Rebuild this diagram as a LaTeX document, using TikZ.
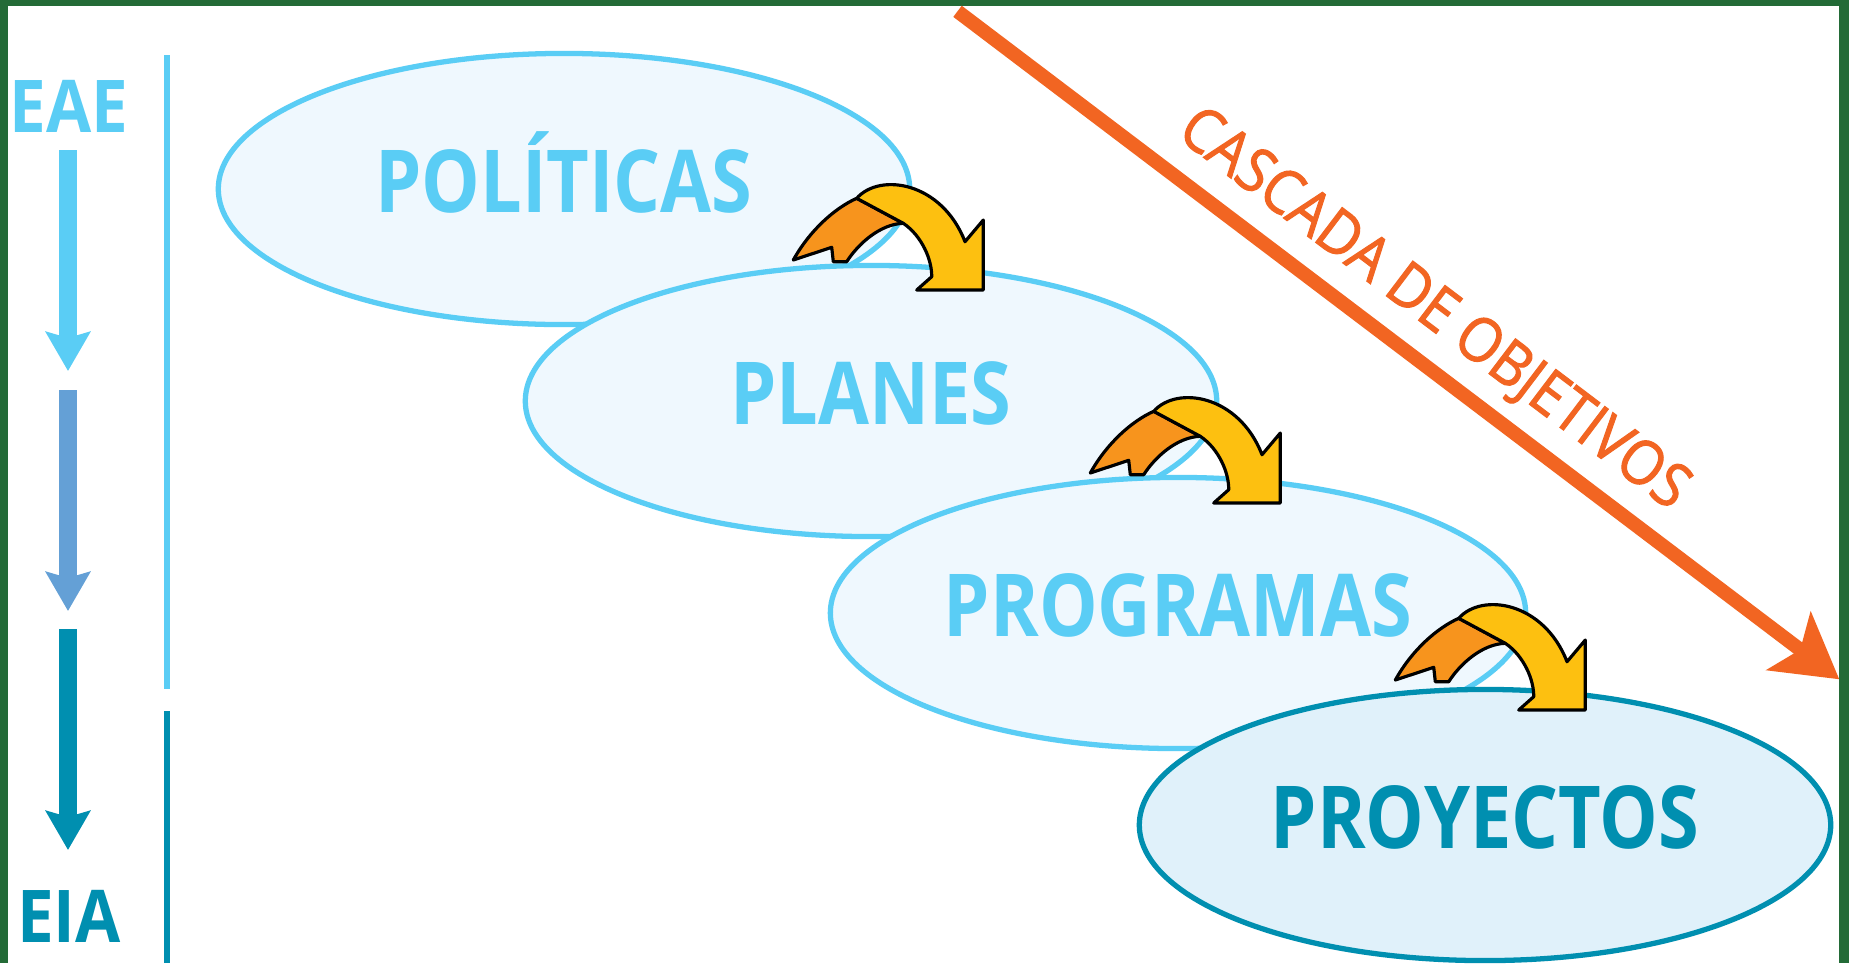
\documentclass[tikz,border=0pt]{standalone}
\usepackage{fontspec}
\setmainfont{Open Sans}
\newfontfamily\estrecha{Open Sans}[FakeStretch=0.85]
\newfontfamily\sigfont{Open Sans}[FakeStretch=0.9]
\newfontfamily\rotulo{Open Sans}[FakeStretch=0.9, FakeBold=1.6]
\usetikzlibrary{shapes.geometric,arrows.meta}
\definecolor{celeste}{RGB}{90,205,245}
\definecolor{celestefondo}{RGB}{239,248,254}
\definecolor{azulmedio}{RGB}{100,160,214}
\definecolor{turquesa}{RGB}{0,143,176}
\definecolor{turquesafondo}{RGB}{224,241,250}
\definecolor{naranja}{RGB}{247,148,29}
\definecolor{amarillo}{RGB}{253,192,16}
\definecolor{cascada}{RGB}{242,101,34}
\definecolor{marco}{RGB}{35,107,55}

\begin{document}
\begin{tikzpicture}[x=0.01cm,y=-0.01cm,
  nivel/.style={ellipse, draw=celeste, fill=celestefondo, line width=1.5pt,
    minimum width=6.91cm, minimum height=2.71cm, text=celeste,
    font=\fontsize{24.7}{30}\estrecha\bfseries, text height=17.6pt, text depth=4pt},
  sigla/.style={font=\fontsize{20.7}{24}\sigfont\bfseries, inner sep=0pt, text height=14.8pt, text depth=0pt},
  bajada/.style={line width=0.18cm, -{Stealth[length=0.39cm,width=0.44cm,inset=0.06cm]}},
  giro/.pic={
    \filldraw[fill=naranja, draw=black, line width=0.9pt, line join=round]
      (-86.7,0) .. controls (-70,-30) and (-45,-52) .. (-23.3,-61.7) -- (23.3,-36.7)
      .. controls (0,-36) and (-22,-16) .. (-33.3,1.7) -- (-46.7,1.7) -- (-48.3,-12.7) -- cycle;
    \filldraw[fill=amarillo, draw=black, line width=0.9pt, line join=round]
      (-23.3,-61.7) .. controls (0,-88) and (62,-78) .. (85,-18.3) -- (103.3,-40) -- (103.3,30)
      -- (36.7,30) -- (51.7,16.7) .. controls (52,0) and (42,-24) .. (23.3,-36.7) -- cycle;
  }]
\useasboundingbox (0,0) rectangle (1849,963);
% marco
\fill[marco] (0,0) rectangle (1849,963);
\fill[white] (8,6) rectangle (1839,963);

% escala EAE -> EIA
\node[sigla, text=celeste] (eae) at (69,106) {EAE};
\node[sigla, text=turquesa] (eia) at (69,916) {EIA};
\coordinate (b1s) at (68,150);
\coordinate (b1e) at (68,371);
\coordinate (b2s) at (68,390);
\coordinate (b2e) at (68,611);
\coordinate (b3s) at (68,629);
\coordinate (b3e) at (68,850);
\draw[bajada, celeste] (b1s) -- (b1e);
\draw[bajada, azulmedio] (b2s) -- (b2e);
\draw[bajada, turquesa] (b3s) -- (b3e);
\draw[celeste, line width=0.06cm] (167,55) -- (167,689);
\draw[turquesa, line width=0.06cm] (167,711) -- (167,963);

% niveles
\node[nivel] (pol) at (564,189) {POLÍTICAS};
\node[nivel] (pla) at (871,401) {PLANES};
\node[nivel] (pro) at (1178,613) {PROGRAMAS};
\node[nivel, draw=turquesa, fill=turquesafondo, text=turquesa] (pry) at (1485,825) {PROYECTOS};

% flechas entre niveles
\pic at (880,260) {giro};
\pic at (1177,473) {giro};
\pic at (1482,680) {giro};

% cascada de objetivos
\coordinate (cs) at (957.5,11.3);
\coordinate (ce) at (1839.3,679.3);
\draw[cascada, line width=0.14cm, -{Stealth[length=0.63cm,width=0.72cm,inset=0.14cm]}]
  (cs) -- (ce) node[pos=0.506, sloped, above=0.25cm, inner sep=0pt, text height=12.5pt,
  text depth=0pt, font=\fontsize{17.5}{20}\rotulo] (cas) {CASCADA DE OBJETIVOS};
\end{tikzpicture}
\end{document}
